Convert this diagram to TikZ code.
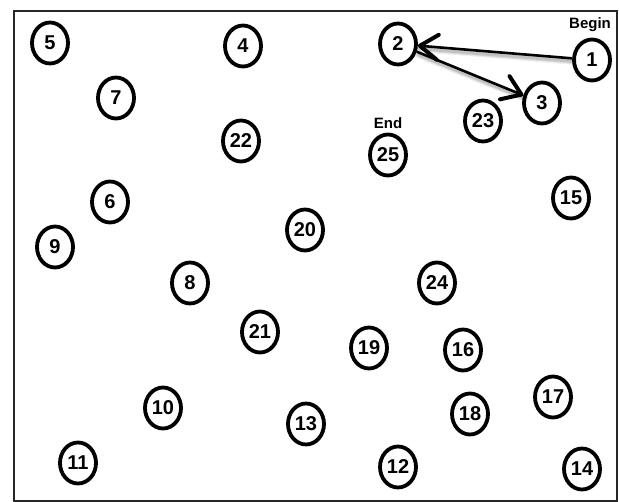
\documentclass[tikz,border=0pt]{standalone}
\usepackage{fontspec}
\setmainfont{Liberation Sans}
\usetikzlibrary{arrows.meta,shapes.geometric}
\tikzset{
  stop/.style={ellipse, draw=black, line width=3.8pt, minimum width=36pt, minimum height=41pt,
    inner sep=0pt, font=\bfseries\fontsize{20}{20}\selectfont},
  tag/.style={font=\bfseries\fontsize{15}{15}\selectfont, inner sep=0pt},
  hop/.style={line width=2.6pt,
    -{Straight Barb[length=18pt,width=25pt,line width=4pt,round]}},
  hopshadow/.style={line cap=round}
}
\begin{document}
\begin{tikzpicture}[x=1pt,y=-1pt]
  \useasboundingbox (0,0) rectangle (619,502);
  \draw[line width=2pt, black!85] (14,11) rectangle (617,501);

  \node[stop] (n1)  at (592,60)  {1};
  \node[stop] (n2)  at (398,44)  {2};
  \node[stop] (n3)  at (542,103) {3};
  \node[stop] (n4)  at (243,46)  {4};
  \node[stop] (n5)  at (50,43)   {5};
  \node[stop] (n6)  at (110,202) {6};
  \node[stop] (n7)  at (116,98)  {7};
  \node[stop] (n8)  at (190,283) {8};
  \node[stop] (n9)  at (55,247)  {9};
  \node[stop] (n10) at (163,408) {10};
  \node[stop] (n11) at (78,463)  {11};
  \node[stop] (n12) at (398,467) {12};
  \node[stop] (n13) at (306,424) {13};
  \node[stop] (n14) at (582,469) {14};
  \node[stop] (n15) at (571,198) {15};
  \node[stop] (n16) at (463,350) {16};
  \node[stop] (n17) at (553,397) {17};
  \node[stop] (n18) at (470,414) {18};
  \node[stop] (n19) at (369,348) {19};
  \node[stop] (n20) at (305,230) {20};
  \node[stop] (n21) at (260,332) {21};
  \node[stop] (n22) at (241,141) {22};
  \node[stop] (n23) at (483,121) {23};
  \node[stop] (n24) at (437,283) {24};
  \node[stop] (n25) at (388,155) {25};

  \node[tag] (begin) at (590,25)  {Begin};
  \node[tag] (end)   at (388,123) {End};

  % soft shadows under the route
  \foreach \w/\o in {7/0.06, 5/0.08, 3/0.12} {
    \begin{scope}[transform canvas={shift={(1.5pt,-3pt)}}]
      \draw[hopshadow, line width=\w pt, black, opacity=\o] (n1) -- (n2);
      \draw[hopshadow, line width=\w pt, black, opacity=\o] (n2) -- (n3);
    \end{scope}
  }

  % route
  \draw[hop] (n1) -- (n2);
  \draw[hop] (n2) -- (n3);
\end{tikzpicture}
\end{document}
